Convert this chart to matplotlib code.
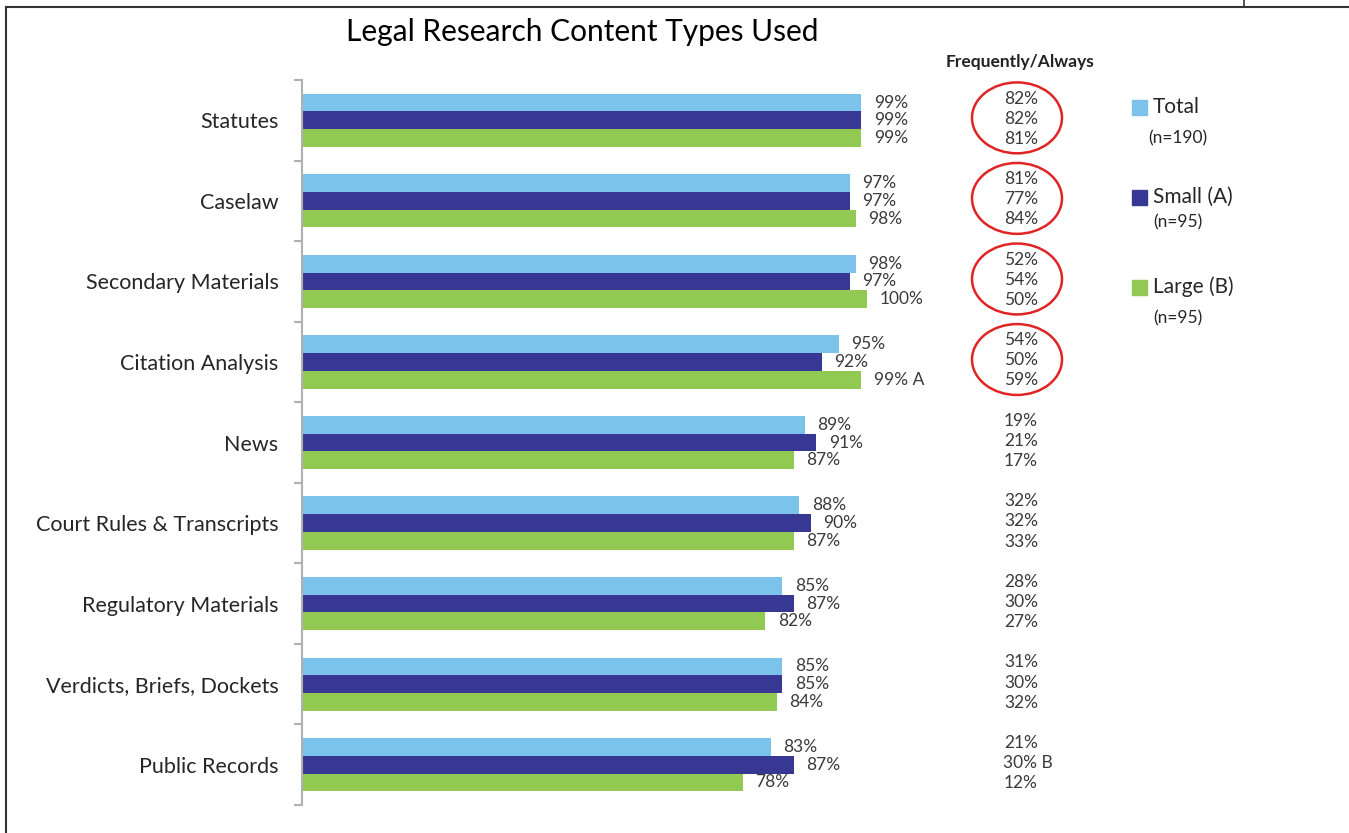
import matplotlib.pyplot as plt
from matplotlib.patches import Ellipse, Rectangle
from matplotlib.lines import Line2D
from matplotlib.transforms import blended_transform_factory

# data
categories = ['Statutes', 'Caselaw', 'Secondary Materials', 'Citation Analysis', 'News',
              'Court Rules & Transcripts', 'Regulatory Materials',
              'Verdicts, Briefs, Dockets', 'Public Records']
total = [99, 97, 98, 95, 89, 88, 85, 85, 83]
small = [99, 97, 97, 92, 91, 90, 87, 85, 87]
large = [99, 98, 100, 99, 87, 87, 82, 84, 78]
large_note = ['', '', '', ' A', '', '', '', '', '']

freq_total = [82, 81, 52, 54, 19, 32, 28, 31, 21]
freq_small = [82, 77, 54, 50, 21, 32, 30, 30, 30]
freq_large = [81, 84, 50, 59, 17, 33, 27, 32, 12]
freq_small_note = ['', '', '', '', '', '', '', '', ' B']
circled = [0, 1, 2, 3]

series_names = ['Total', 'Small (A)', 'Large (B)']
series_n = ['(n=190)', '(n=95)', '(n=95)']
colors = ['#7CC3EC', '#373893', '#92C953']

plt.rcParams['font.family'] = ['Lato', 'DejaVu Sans']

W, H = 1349, 833
fig = plt.figure(figsize=(W / 100, H / 100), dpi=100)


def fx(x):
    return x / W


def fy(y):
    return 1 - y / H


# axes: x from 302 px (0%) to 867 px (100%), y from 80 px to 805 px
ax = fig.add_axes([fx(302), fy(805), (867 - 302) / W, (805 - 80) / H])
ax.set_xlim(0, 100)
ax.set_ylim(len(categories) - 0.5, -0.5)

bh = 0.22
offs = [-bh, 0, bh]
for vals, off, c in zip([total, small, large], offs, colors):
    ax.barh([i + off for i in range(len(categories))], vals, height=bh, color=c, zorder=2)

txt_color = '#3A3A3A'
for i in range(len(categories)):
    for vals, off, note in zip([total, small, large], offs, [[''] * 9, [''] * 9, large_note]):
        ax.annotate(f'{vals[i]}%{note[i]}', (vals[i], i + off), xytext=(9, 0),
                    textcoords='offset points', va='center', ha='left',
                    fontsize=12.5, color=txt_color, annotation_clip=False)

# frequently/always column
bt = blended_transform_factory(fig.transFigure, ax.transData)
fig.text(fx(1020), fy(62), 'Frequently/Always', ha='center', va='center',
         fontsize=12.5, fontweight='bold', color='#222222')
for i in range(len(categories)):
    for vals, off, note in zip([freq_total, freq_small, freq_large], [-0.27, -0.02, 0.23],
                               [[''] * 9, freq_small_note, [''] * 9]):
        s = f'{vals[i]}%'
        if note[i]:
            ax.text(fx(1003), i + off, s + note[i], transform=bt, ha='left', va='center',
                    fontsize=12.5, color=txt_color)
        else:
            ax.text(fx(1021), i + off, s, transform=bt, ha='center', va='center',
                    fontsize=12.5, color=txt_color)
for i in circled:
    e = Ellipse((fx(1017), i - 0.03), 90 / W, 0.88, transform=bt, fill=False,
                edgecolor='#E02424', linewidth=1.8, clip_on=False)
    ax.add_patch(e)

# axis styling
for s in ['top', 'right', 'bottom']:
    ax.spines[s].set_visible(False)
ax.spines['left'].set_color('#B0B0B0')
ax.spines['left'].set_linewidth(1.5)
ax.set_xticks([])
ax.set_yticks(range(len(categories)))
ax.set_yticklabels(categories, fontsize=15.5, color='#262626')
ax.tick_params(axis='y', which='major', length=0, pad=17)
ax.set_yticks([i - 0.5 for i in range(len(categories) + 1)], minor=True)
ax.tick_params(axis='y', which='minor', length=6, width=1.5, color='#B0B0B0', direction='out')

# title
fig.text(fx(582), fy(32), 'Legal Research Content Types Used', ha='center', va='center',
         fontsize=21.5, color='black')

# legend
leg_y = [107, 197, 287]
n_y = [138, 222, 318]
n_x = [1148, 1153, 1153]
for c, name, n, ly, ny, nx in zip(colors, series_names, series_n, leg_y, n_y, n_x):
    fig.add_artist(Rectangle((fx(1132), fy(ly + 8)), 15 / W, 15 / H, color=c,
                             transform=fig.transFigure))
    fig.text(fx(1153), fy(ly), name, ha='left', va='center', fontsize=15, color='#262626')
    fig.text(fx(nx), fy(ny), n, ha='left', va='center', fontsize=12.5, color='#262626')

# frame lines
fig.add_artist(Line2D([fx(6), fx(6)], [fy(7), 0], color='#333333', lw=1.5))
fig.add_artist(Line2D([fx(6), 1], [fy(7), fy(7)], color='#333333', lw=1.5))
fig.add_artist(Line2D([fx(1244), fx(1244)], [1, fy(7)], color='#333333', lw=1.2))

fig.savefig('out.png', dpi=100)
